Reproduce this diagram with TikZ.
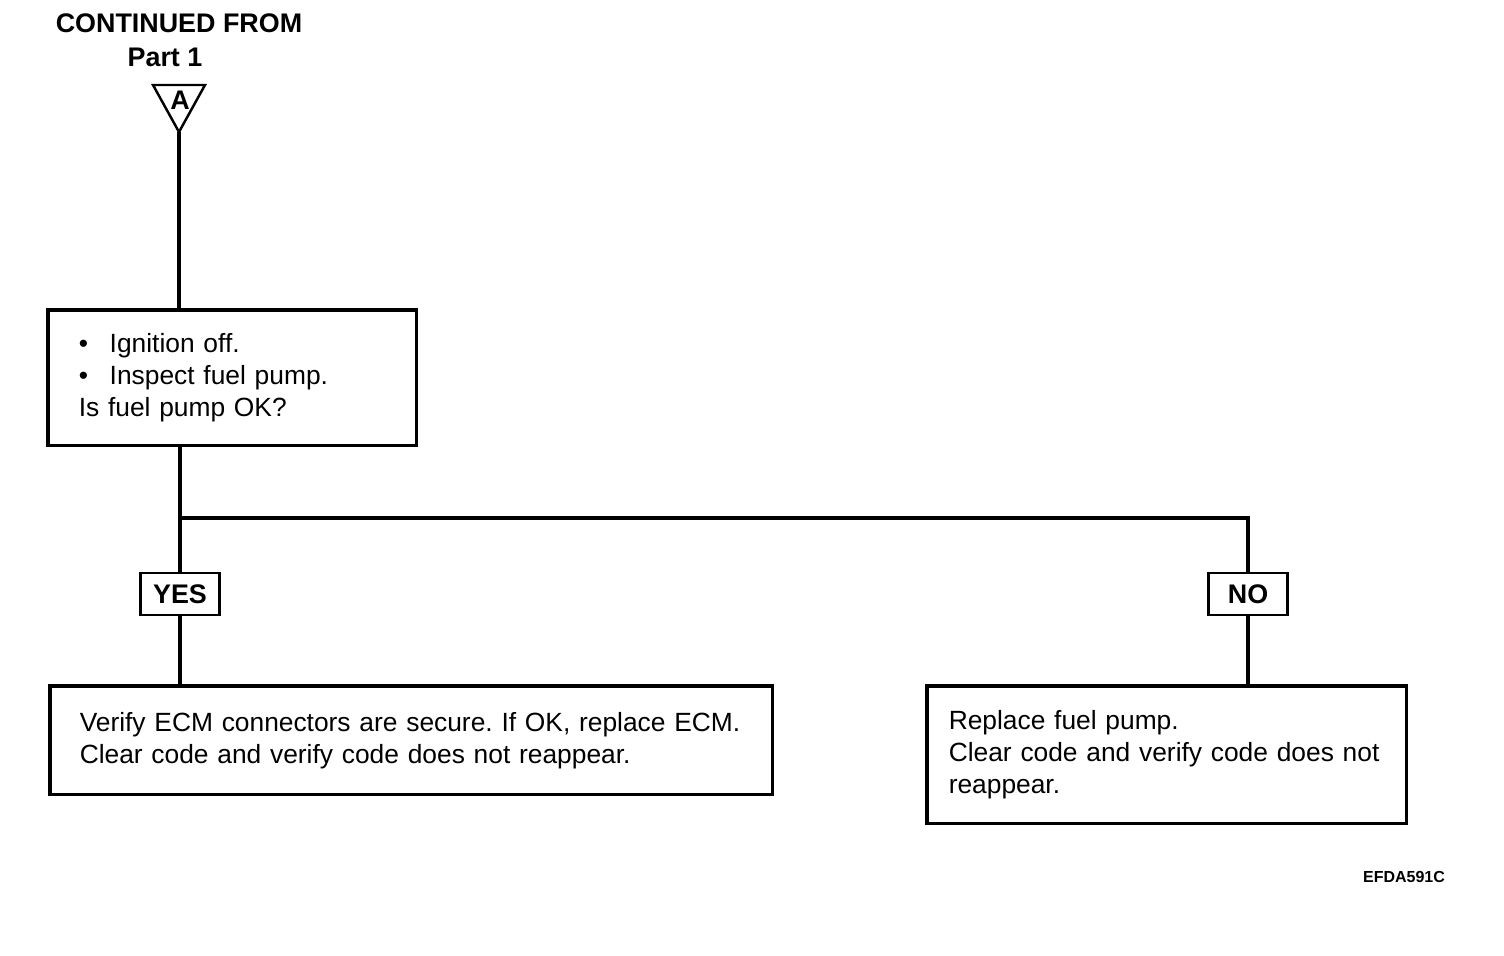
\documentclass[tikz,border=0pt]{standalone}
\usepackage{fontspec}
\setmainfont{Liberation Sans}
\usepackage{tikz}
\usetikzlibrary{positioning, calc}

\newcommand{\itm}{\makebox[0.62cm][l]{\textbullet}}

\begin{document}
\frenchspacing
\begin{tikzpicture}[x=0.02cm, y=-0.02cm,
    box/.style={rectangle, draw=black, line width=2pt, anchor=north west, align=left, inner ysep=0pt, font=\fontsize{15}{18.2}\selectfont},
    tag/.style={rectangle, draw=black, line width=1.6pt, minimum width=1.58cm, minimum height=0.84cm, inner sep=0pt, font=\bfseries\fontsize{15.3}{18.2}\selectfont},
    heading/.style={anchor=base, inner sep=0pt, font=\bfseries\fontsize{15.3}{18.2}\selectfont},
    wire/.style={line width=2.2pt}
]
\useasboundingbox (0,0) rectangle (1504,956);

% Header
\node[heading] (cont) at (179,33) {CONTINUED FROM};
\node[heading] (part) at (165,67) {Part 1};

% Off-page connector
\draw[line width=1.4pt, line join=miter] (153,85) -- (205,85) -- (179,132) -- cycle;
\node[heading] (conA) at (180,110) {A};
\coordinate (tip) at (179,132);

% Question
\node[box, minimum width=7.38cm, minimum height=2.72cm, inner xsep=0.62cm, text width=6.14cm] (check) at (46,308)
    {\itm Ignition off.\\ \itm Inspect fuel pump.\\ Is fuel pump OK?};

% Answers
\node[tag] (yes) at (180,594) {YES};
\node[tag] (no) at (1248,594) {NO};

% Actions
\node[box, minimum width=14.46cm, minimum height=2.18cm, inner xsep=0.6cm, text width=13.26cm] (ecm) at (48,684)
    {Verify ECM connectors are secure. If OK, replace ECM.\\ Clear code and verify code does not reappear.};
\node[box, minimum width=9.6cm, minimum height=2.76cm, inner xsep=0.44cm, text width=8.72cm] (pump) at (925,684)
    {Replace fuel pump.\\ Clear code and verify code does not\\ reappear.};

% Connections
\coordinate (split) at (180,518);
\draw[wire] (tip) -- (check.north -| tip);
\draw[wire] (check.south -| split) -- (split) -| (no.north);
\draw[wire] (split) -- (yes.north);
\draw[wire] (yes.south) -- (ecm.north -| yes);
\draw[wire] (no.south) -- (pump.north -| no);

% Figure code
\node[anchor=base, inner sep=0pt, font=\bfseries\fontsize{9.1}{11}\selectfont] (code) at (1404,882) {EFDA591C};

\end{tikzpicture}
\end{document}
